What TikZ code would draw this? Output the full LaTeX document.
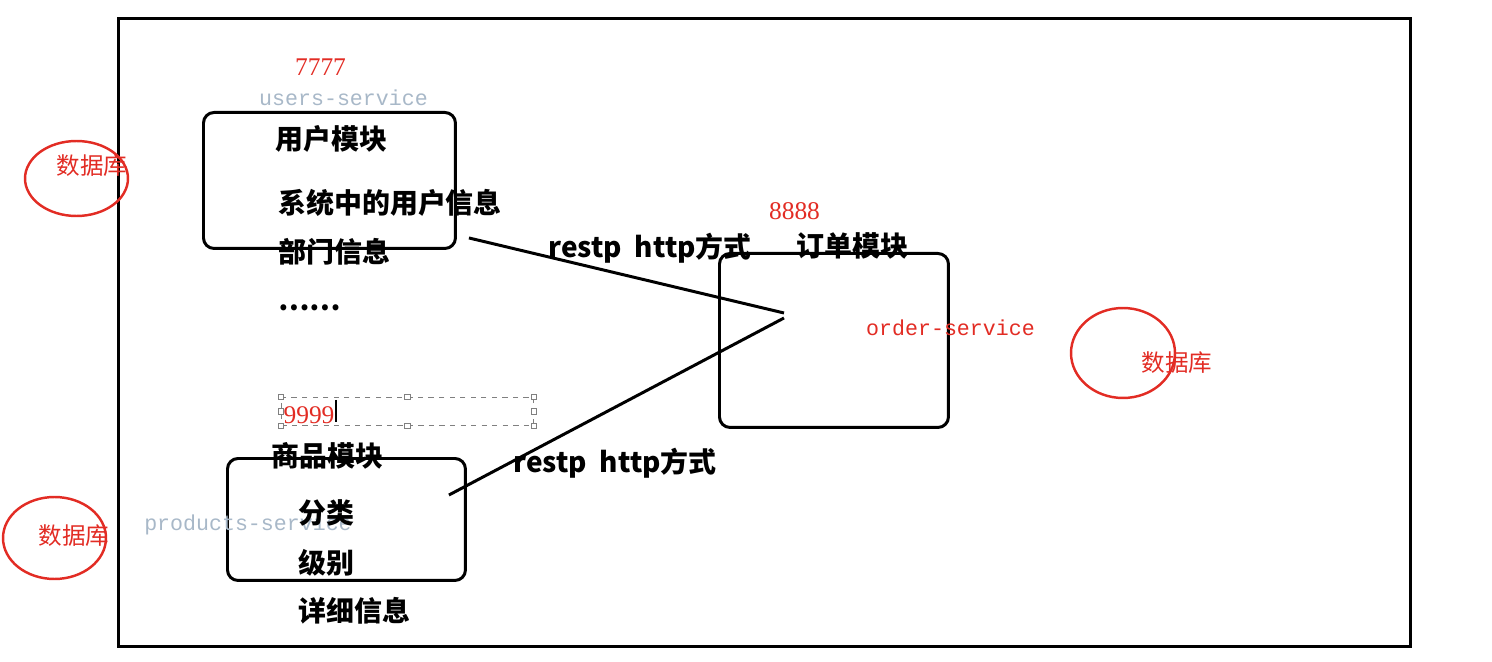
\documentclass[tikz,border=0pt]{standalone}
\usepackage{fontspec}
\usetikzlibrary{calc,shapes.geometric}
\newfontfamily\cjk{Noto Sans CJK SC}
\newfontfamily\lserif{Liberation Serif}
\newfontfamily\lmono{Liberation Mono}
\definecolor{myred}{RGB}{226,44,36}
\definecolor{svcgray}{RGB}{168,184,200}
\tikzset{
  modbox/.style={draw=black, line width=1.7pt, rounded corners=6pt, anchor=north west, inner sep=0pt},
  frame/.style={draw=black, line width=1.7pt, anchor=north west, inner sep=0pt},
  blbl/.style={font=\cjk\bfseries\fontsize{15.9}{18}\selectfont, inner sep=0pt, anchor=west},
  dblbl/.style={font=\cjk\fontsize{13.4}{15}\selectfont, text=myred, inner sep=0pt},
  port/.style={font=\lserif\fontsize{14.5}{16}\selectfont, text=myred, inner sep=0pt},
  svc/.style={font=\lmono\fontsize{12.3}{14}\selectfont, inner sep=0pt},
  dbell/.style={draw=myred, line width=1.4pt, ellipse, inner sep=0pt},
  link/.style={draw=black, line width=1.7pt},
  selbox/.style={draw=gray, dashed, line width=0.4pt, anchor=north west, inner sep=0pt},
  handle/.style={draw=gray, fill=white, line width=0.3pt, minimum size=3pt, inner sep=0pt},
}
\begin{document}
\begin{tikzpicture}[x=0.02cm,y=-0.02cm]
\useasboundingbox (0,0) rectangle (1492,662);
% outer frame
\node[frame, minimum width=25.84cm, minimum height=12.56cm] (outer) at (117,17) {};
% module boxes
\node[modbox, minimum width=5.04cm, minimum height=2.72cm] (u) at (202,111) {};
\node[modbox, minimum width=4.58cm, minimum height=3.48cm] (o) at (718,252) {};
\node[modbox, minimum width=4.76cm, minimum height=2.44cm] (p) at (226,457) {};
% databases
\node[dbell, minimum width=2.06cm, minimum height=1.5cm] (db1) at (76.5,178.5) {};
\node[dbell, minimum width=2.06cm, minimum height=1.64cm] (db2) at (54.5,538) {};
\node[dbell, minimum width=2.08cm, minimum height=1.8cm] (db3) at (1123,353) {};
\node[dblbl] (dbt1) at (92,166) {数据库};
\node[dblbl] (dbt2) at (74,536) {数据库};
\node[dblbl] (dbt3) at (1177,363) {数据库};
% ports and service names
\node[port] (p7) at (320.5,67) {7777};
\node[svc, text=svcgray] (us) at (343.5,98) {users-service};
\node[port] (p8) at (794.5,211) {8888};
\node[svc, text=myred] (os) at (950.5,328) {order-service};
\node[svc, text=svcgray] (ps) at (248,525) {products-service};
% selection box with 9999
\node[selbox, minimum width=5.04cm, minimum height=0.56cm] (sel) at (281,397) {};
\foreach \a [count=\i] in {north west,north,north east,east,south east,south,south west,west}
  \node[handle] (h\i) at (sel.\a) {};
\node[port] (p9) at (309,415) {9999};
\coordinate (cur1) at (336,400);
\coordinate (cur2) at (336,422);
\draw[line width=0.6pt] (cur1) -- (cur2);
% bold labels
\node[blbl] (t1) at (275,139) {用户模块};
\node[blbl] (t2) at (278,203) {系统中的用户信息};
\node[blbl] (t3) at (278,252) {部门信息};
\node[blbl, anchor=base west] (t4) at (278,311) {……};
\node[blbl] (r1) at (548,248) {restp~~http方式};
\node[blbl] (t5) at (796,246) {订单模块};
\node[blbl] (t6) at (271,456) {商品模块};
\node[blbl] (r2) at (513,463) {restp~~http方式};
\node[blbl] (t7) at (298,513) {分类};
\node[blbl] (t8) at (298,563) {级别};
\node[blbl] (t9) at (298,611) {详细信息};
% connectors
\coordinate (hub1) at (784,313);
\coordinate (hub2) at (784,318);
\draw[link] ($(u.south east)+(12,-12)$) -- (hub1);
\draw[link] ($(p.north east)+(-18,38)$) -- (hub2);
\end{tikzpicture}
\end{document}
